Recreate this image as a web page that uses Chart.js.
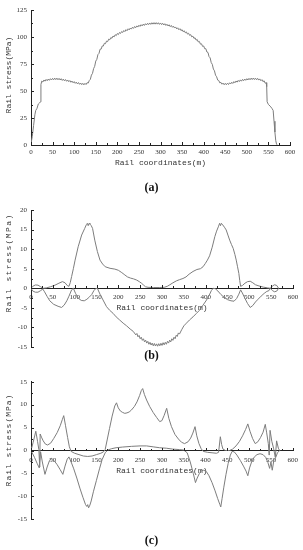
<!DOCTYPE html>
<html><head><meta charset="utf-8">
<script src="https://cdn.jsdelivr.net/npm/chart.js@4.4.1/dist/chart.umd.min.js"></script>
<style>
html,body{margin:0;padding:0;background:#fff;}
#wrap{position:relative;width:303px;height:550px;overflow:hidden;background:#fff;}
canvas{position:absolute;left:0;}
.lab{position:absolute;left:0;width:303px;text-align:center;font:bold 12px "Liberation Serif",serif;line-height:14px;color:#111;z-index:2;}
</style></head><body>
<div id="wrap">
<canvas id="ca" width="303" height="180" style="top:0px"></canvas>
<canvas id="cb" width="303" height="180" style="top:180px"></canvas>
<canvas id="cc" width="303" height="190" style="top:360px"></canvas>
<div class="lab" style="top:180px">(a)</div>
<div class="lab" style="top:348px">(b)</div>
<div class="lab" style="top:533px">(c)</div>
</div>
<script>
// ---------- DATA ----------
const xTicks = [0,50,100,150,200,250,300,350,400,450,500,550,600];
const yTicksA = [0,25,50,75,100,125];
const yTicksB = [-15,-10,-5,0,5,10,15,20];
const yTicksC = [-15,-10,-5,0,5,10,15];
const xTitle = "Rail coordinates(m)";
const yTitle = "Rail stress(MPa)";

// (a) rail stress along the line
const aX = [0,3,6,9,11,14,17,20,22,23,
25,27.5,30,32.5,35,37.5,40,42.5,45,47.5,50,52.5,55,57.5,60,62.5,65,67.5,70,72.5,75,77.5,80,82.5,85,87.5,90,92.5,95,97.5,
100,102.5,105,107.5,110,112.5,115,117.5,120,122.5,125,127.5,130,132.5,135,137.5,140,142.5,145,147.5,150,152.5,155,157.5,160,162.5,165,167.5,170,172.5,175,177.5,180,182.5,185,187.5,190,192.5,195,197.5,
200,202.5,205,207.5,210,212.5,215,217.5,220,222.5,225,227.5,230,232.5,235,237.5,240,242.5,245,247.5,250,252.5,255,257.5,260,262.5,265,267.5,270,272.5,275,277.5,280,282.5,285,287.5,290,292.5,295,297.5,
300,302.5,305,307.5,310,312.5,315,317.5,320,322.5,325,327.5,330,332.5,335,337.5,340,342.5,345,347.5,350,352.5,355,357.5,360,362.5,365,367.5,370,372.5,375,377.5,380,382.5,385,387.5,390,392.5,395,397.5,
400,402.5,405,407.5,410,412.5,415,417.5,420,422.5,425,427.5,430,432.5,435,437.5,440,442.5,445,447.5,450,452.5,455,457.5,460,462.5,465,467.5,470,472.5,475,477.5,480,482.5,485,487.5,490,492.5,495,497.5,
500,502.5,505,507.5,510,512.5,515,517.5,520,522.5,525,527.5,530,532.5,535,537.5,540,542.5,545,
546,547,550,554,558,561,563,565,567,569,571];
const aY = [1,8,18,28,32,34,38,39,40,56,
59.2,58.3,60.2,59.1,60.7,59.5,61.1,59.9,61.4,60.2,61.7,60.4,61.9,60.5,61.9,60.4,61.7,60.2,61.4,59.8,61.0,59.4,60.6,59.0,60.2,58.6,59.7,58.1,59.2,57.6,
58.7,57.1,58.2,56.6,57.8,56.2,57.4,55.9,57.1,55.7,57.1,56.0,57.7,57.3,59.7,60.8,64.7,66.3,70.7,72.8,77.7,79.3,83.7,84.8,88.7,88.8,91.7,91.6,94.2,93.8,96.2,95.7,98.0,97.4,99.5,98.8,100.9,100.1,102.1,101.3,
103.2,102.3,104.2,103.3,105.1,104.2,106.0,105.0,106.8,105.8,107.6,106.6,108.3,107.3,109.0,108.0,109.7,108.6,110.3,109.2,110.9,109.8,111.4,110.3,111.9,110.7,112.3,111.1,112.7,111.5,113.0,111.7,113.2,111.9,113.3,111.9,113.3,111.9,113.2,111.7,
113.0,111.5,112.7,111.1,112.3,110.7,111.8,110.2,111.3,109.6,110.7,109.0,110.0,108.3,109.3,107.5,108.5,106.7,107.7,105.9,106.8,104.9,105.8,103.9,104.7,102.7,103.5,101.5,102.2,100.1,100.8,98.7,99.3,97.1,97.7,95.4,95.9,93.4,93.7,91.3,
91.7,89.1,89.2,86.1,85.7,81.8,80.7,76.3,74.7,70.3,68.7,64.6,63.2,60.1,59.7,57.5,58.0,56.3,57.3,55.8,57.1,55.8,57.2,56.0,57.6,56.5,58.1,57.0,58.7,57.6,59.3,58.2,59.8,58.7,60.3,59.1,60.7,59.5,61.1,59.9,
61.4,60.2,61.7,60.4,61.9,60.6,62.0,60.6,61.9,60.4,61.7,60.1,61.2,59.5,60.5,58.6,59.5,57.2,57.7,
54,40,37.5,36,34,32,22,12,4,0.5,0];

// (b) two stress curves, [x, y]
const bUpper = [[0,0],[4,0.5],[10,0.85],[16,0.8],[22,0.4],[28,0],[35,0.1],[45,0.4],[55,0.8],[64,1.3],[72,1.7],[78,1.4],[83,0.7],[87,0.5],[90,1.5],[93,3],[97,5],[101,7.2],[108,10.6],[116,13.6],[123,15.3],[127,16.3],[129,16.6],[131,16.0],[133,16.6],[135,16.4],[138,16],[141,15.3],[146,12.3],[152,9.4],[158,7.2],[164,6.2],[170,5.5],[181,5.1],[192,4.9],[200,4.6],[208,4],[215,3.4],[221,2.9],[228,2.6],[235,2.4],[242,2.1],[248,1.7],[253,1.3],[258,0.8],[262,0.4],[268,0.25],[280,0.2],[295,0.2],[305,0.25],[312,0.5],[318,0.9],[325,1.4],[333,1.9],[340,2.2],[348,2.5],[355,2.9],[362,3.6],[371,4.3],[380,4.8],[388,5],[394,5.5],[399,6.3],[404,7.2],[409,8.3],[415,10.5],[421,13.2],[425,14.6],[429,15.7],[432,16.6],[434,16.0],[436,16.6],[439,16.2],[443,15.6],[447,14.9],[451,13.6],[455,12.3],[459,11.2],[463,10.2],[467,8.6],[470,7.2],[473,5.5],[476,3.8],[478,2],[480,0.5],[484,0.7],[490,1.3],[496,1.7],[502,1.8],[508,1.4],[514,0.9],[522,0.6],[532,0.3],[542,0.1],[548,0],[553,0.6],[558,0.9],[563,0.7],[567,0]];
const bLower = [[0,0],[4,-0.7],[10,-1.0],[16,-1.0],[22,-0.6],[27,-0.2],[31,-0.9],[37,-2.1],[43,-3.2],[52,-4.1],[62,-4.6],[70,-4.9],[76,-4.3],[82,-3.2],[87,-2],[90,-1.2],[93,-0.4],[97,0],[102,-1.3],[108,-2.5],[115,-3.1],[122,-3.2],[128,-2.8],[134,-2.2],[139,-1.6],[144,-0.6],[148,-0.1],[152,0],[158,-1.5],[165,-3],[173,-4.7],[180,-5.6],[188,-6.4],[195,-7.3],[203,-8.1],[211,-8.9],[219,-9.6],[227,-10.4],[234,-11],
[240,-11.9],[242.5,-11.55],[245,-12.4],[247.5,-12.05],[250,-12.9],[252.5,-12.5],[255,-13.3],[257.5,-12.9],[260,-13.7],[262.5,-13.25],[265,-14.0],[267.5,-13.55],[270,-14.3],[272.5,-13.8],[275,-14.5],[277.5,-14.0],[280,-14.7],[282.5,-14.1],[285,-14.75],[287.5,-14.2],[290,-14.8],[292.5,-14.15],[295,-14.7],[297.5,-14.05],[300,-14.6],[302.5,-13.9],[305,-14.45],[307.5,-13.8],[310,-14.3],[312.5,-13.55],[315,-14.0],[317.5,-13.25],[320,-13.7],[322.5,-12.9],[325,-13.3],[327.5,-12.5],[330,-12.9],[332.5,-12.0],[335,-12.3],[337.5,-11.4],[340,-11.7],
[345,-10.6],[350,-9.6],[356,-8.9],[363,-8.1],[371,-7.3],[379,-6.4],[386,-5.6],[394,-4.3],[402,-3],[408,-1.8],[413,-0.6],[417,0],[422,-0.1],[428,-0.7],[435,-1.6],[442,-2.3],[450,-2.9],[458,-3.2],[465,-3.3],[471,-2.6],[476,-1.5],[480,-0.4],[484,-1.2],[490,-2.6],[496,-3.9],[502,-4.9],[508,-4.4],[514,-3.5],[520,-2.8],[527,-2],[534,-1.3],[540,-0.8],[545,-0.6],[548,0],[553,-0.6],[558,-0.9],[563,-0.7],[567,0]];

// (c) two stress curves, [x, y]
const cUpper = [[0,0],[5,1.8],[11,4.2],[15,2],[18,0.2],[20,-3.6],[21,3.6],[24,2.9],[28,2.1],[33,1.4],[38,1.2],[45,1.6],[52,2.6],[60,3.9],[67,5.4],[72,6.8],[75,7.6],[79,5.5],[84,2.8],[88,0.8],[92,-0.2],[100,-0.6],[110,-0.9],[120,-1.2],[130,-1.3],[140,-1.2],[150,-0.9],[160,-0.6],[166,-0.3],[170,0.2],[175,2.5],[180,4.8],[186,7.5],[192,9.7],[196,10.4],[200,9.3],[205,8.6],[210,8.3],[215,8.1],[220,8.2],[225,8.4],[230,8.8],[237,9.6],[243,10.6],[249,12],[253,13.1],[256,13.5],[260,12.2],[265,11],[272,9.6],[280,8.3],[288,7.2],[295,6.3],[300,6.5],[305,7.6],[311,9.2],[316,7],[322,5.2],[330,3.5],[338,2.5],[345,1.8],[352,1.5],[360,1.9],[366,2.7],[371,3.8],[376,5.2],[380,3.2],[385,1.5],[390,0.4],[395,-0.2],[405,-0.4],[415,-0.5],[425,-0.6],[430,-0.4],[434,3],[437,1.3],[440,0.3],[446,0],[455,0],[462,0.3],[470,1],[478,2],[485,3.2],[492,4.6],[497,5.8],[502,4.2],[508,2.6],[514,1.5],[520,1.9],[526,2.8],[532,4],[537,5.7],[540,4],[544,1.5],[546,-1],[548,4.4],[552,2],[556,0.5],[560,-1.5],[563,2.1],[567,0.5],[570,0]];
const cLower = [[0,0],[8,-1.5],[14,-2.8],[19,-3.8],[22,-0.3],[26,-2.5],[32,-5.2],[37,-3.6],[42,-2.3],[47,-1.7],[53,-2.2],[60,-3.1],[67,-4.2],[73,-5.2],[78,-3.4],[83,-1.9],[87,-1.4],[92,-2.5],[98,-4],[105,-6],[112,-8.2],[119,-10.2],[125,-11.8],[128,-12.2],[130,-11.8],[132,-12.5],[135,-11.9],[138,-11],[143,-9],[150,-6.5],[157,-4],[163,-2],[170,-0.5],[176,0.1],[185,0.4],[195,0.6],[210,0.75],[230,0.9],[250,1],[265,1],[280,0.8],[295,0.6],[310,0.5],[325,0.3],[340,0.2],[350,0.1],[358,-0.5],[365,-2.5],[372,-5],[377,-7],[381,-6],[386,-5],[391,-4.4],[396,-4.3],[402,-4.6],[408,-5.5],[415,-7],[422,-8.8],[428,-10.5],[433,-11.8],[435,-12.3],[438,-10.5],[442,-8],[447,-5.2],[452,-2.8],[457,-1],[461,-0.2],[466,-0.3],[472,-1],[480,-2.2],[487,-3.4],[493,-4.5],[497,-5.5],[501,-3.8],[506,-2.4],[512,-1.4],[518,-0.9],[525,-0.7],[532,-0.9],[538,-1.5],[543,-2.6],[547,-3.9],[550,-2.5],[553,-4.3],[557,-2],[561,-1.5],[565,-0.5],[570,0]];

// ---------- STYLE ----------
const LINE = '#7d7d7d', AXIS = '#222', TXT = '#333';
const tickFont = {family:'"Liberation Serif", serif', size:7};
const titleFont = {family:'"Liberation Mono", monospace', size:8};

const deco = {
  id:'deco',
  afterDraw(chart, args, o){
    const ctx = chart.ctx, xs = chart.scales.x, ys = chart.scales.y;
    const yPix = o.zeroAxis ? ys.getPixelForValue(0) : chart.chartArea.bottom;
    const xPix = chart.chartArea.left;
    ctx.save();
    ctx.strokeStyle = AXIS; ctx.lineWidth = 1;
    ctx.beginPath();
    const xt = o.xt;
    for (let i=0;i<xt.length;i++){
      const p = Math.round(xs.getPixelForValue(xt[i]))+0.5;
      ctx.moveTo(p, Math.round(yPix)); ctx.lineTo(p, Math.round(yPix)-3);
      if (i<xt.length-1){
        const m = Math.round(xs.getPixelForValue((xt[i]+xt[i+1])/2))+0.5;
        ctx.moveTo(m, Math.round(yPix)); ctx.lineTo(m, Math.round(yPix)-2);
      }
    }
    const yt = o.yt;
    for (let i=0;i<yt.length;i++){
      const p = Math.round(ys.getPixelForValue(yt[i]))+0.5;
      ctx.moveTo(Math.round(xPix), p); ctx.lineTo(Math.round(xPix)+3, p);
      if (i<yt.length-1){
        const m = Math.round(ys.getPixelForValue((yt[i]+yt[i+1])/2))+0.5;
        ctx.moveTo(Math.round(xPix), m); ctx.lineTo(Math.round(xPix)+2, m);
      }
    }
    ctx.stroke();
    ctx.translate(o.tx, o.ty); ctx.rotate(-Math.PI/2);
    ctx.font = '8px "Liberation Mono", monospace';
    if ('letterSpacing' in ctx) ctx.letterSpacing = o.ls + 'px';
    ctx.fillStyle = TXT; ctx.textAlign = 'center'; ctx.textBaseline = 'middle';
    ctx.fillText(yTitle, 0, 0);
    ctx.restore();
  }
};

function makeChart(id, datasets, cfg){
  return new Chart(document.getElementById(id), {
    type:'line',
    data:{datasets: datasets.map(d => ({data:d, borderColor:LINE, borderWidth:1, pointRadius:0, tension:0, fill:false}))},
    plugins:[deco],
    options:{
      responsive:false, animation:false, events:[], parsing:true,
      layout:{padding:cfg.pad},
      plugins:{legend:{display:false}, tooltip:{enabled:false},
        deco:{zeroAxis:cfg.zero, xt:xTicks, yt:cfg.yt, tx:9, ty:cfg.ty, ls:cfg.ls}},
      scales:{
        x:{type:'linear', min:0, max:600, position: cfg.zero ? {y:0} : 'bottom',
          afterBuildTicks: s => { s.ticks = xTicks.map(v => ({value:v})); },
          afterFit: s => { s.height = 30; },
          grid:{display:true, drawOnChartArea:false, drawTicks:false},
          border:{display:true, color:AXIS, width:1},
          ticks:{font:tickFont, color:TXT, padding:cfg.xpad, maxRotation:0, autoSkip:false, callback: v => String(v)},
          title:{display:true, text:xTitle, font:titleFont, color:TXT, padding:{top:0, bottom:cfg.tpad}}},
        y:{type:'linear', min:cfg.yt[0], max:cfg.yt[cfg.yt.length-1],
          afterBuildTicks: s => { s.ticks = cfg.yt.map(v => ({value:v})); },
          afterFit: s => { s.width = 31; },
          grid:{display:true, drawOnChartArea:false, drawTicks:false},
          border:{display:true, color:AXIS, width:1},
          ticks:{font:tickFont, color:TXT, padding:4, callback: v => String(v)}}
      }
    }
  });
}

const aPts = aX.map((x,i) => ({x:x, y:aY[i]}));
const toPts = arr => arr.map(p => ({x:p[0], y:p[1]}));

makeChart('ca', [aPts], {pad:{top:10,right:13,left:0,bottom:5}, zero:false, yt:yTicksA, ty:75, ls:0, xpad:2.5, tpad:7.2});
makeChart('cb', [toPts(bUpper), toPts(bLower)], {pad:{top:30,right:10,left:0,bottom:13}, zero:true, yt:yTicksB, ty:83, ls:1.4, xpad:4.5, tpad:5.5});
makeChart('cc', [toPts(cUpper), toPts(cLower)], {pad:{top:21.7,right:10,left:0,bottom:30.7}, zero:true, yt:yTicksC, ty:80, ls:1, xpad:5, tpad:4.7});
</script>
</body></html>
